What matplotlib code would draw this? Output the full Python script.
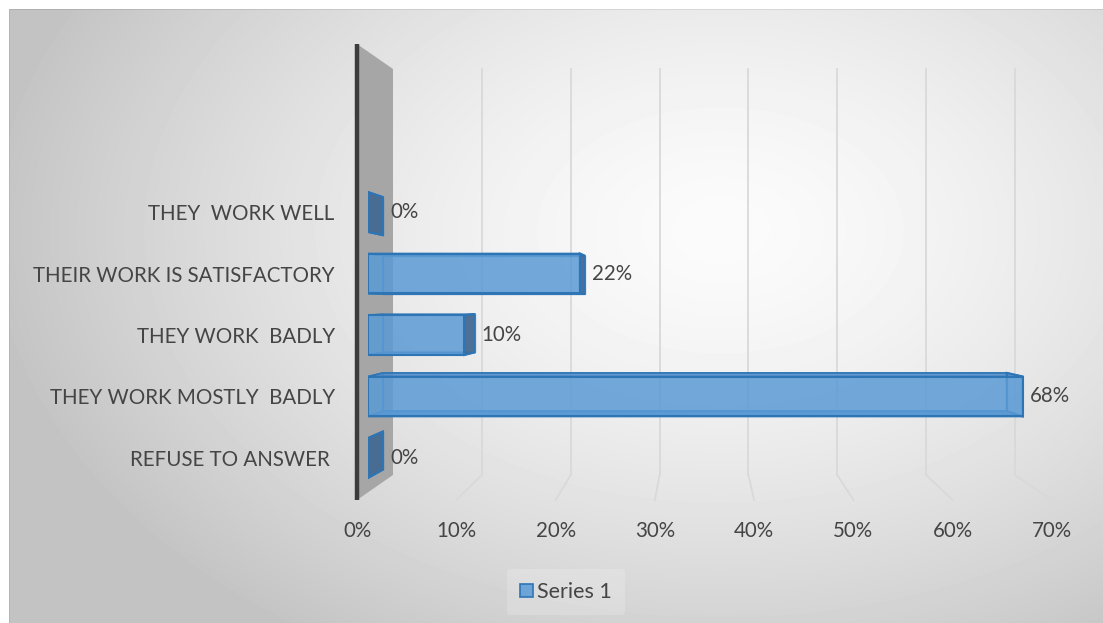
import numpy as np
import matplotlib
matplotlib.use("Agg")
import matplotlib.pyplot as plt
from matplotlib.patches import Polygon, Patch

# ---------------- data ----------------
categories = ["REFUSE TO ANSWER ", "THEY WORK MOSTLY  BADLY", "THEY WORK  BADLY",
              "THEIR WORK IS SATISFACTORY", "THEY  WORK WELL"]
values = [0, 68, 10, 22, 0]
value_labels = ["0%", "68%", "10%", "22%", "0%"]
tick_values = [0, 10, 20, 30, 40, 50, 60, 70]
tick_labels = ["0%", "10%", "20%", "30%", "40%", "50%", "60%", "70%"]
series_name = "Series 1"

# ---------------- style ----------------
W, H = 1103, 623
FONT = ["Lato", "DejaVu Sans"]
TXT = "#454545"
FS = 14.8
BAR_FILL = (0.357, 0.608, 0.835, 0.85)
BAR_TOP = (0.31, 0.55, 0.79, 0.85)
BAR_EDGE = "#2E75B6"
BAR_DARK = (0.27, 0.41, 0.57, 0.95)
WALL = "#A6A6A6"
WALL_LINE = "#3C3C3C"
GRID = "#D9D9D9"

plt.rcParams["font.family"] = FONT

fig = plt.figure(figsize=(W / 100, H / 100), dpi=100)

def fx(px):
    return px / W

def fy(py):
    return 1 - py / H

top_px, bot_px = 40, 500
ylim = (-0.683, 6.797)
floor_front, floor_back = -0.683, -0.276
top_front, top_back = 6.732, 6.325

# background gradient
ax_bg = fig.add_axes([0, 0, 1, 1], zorder=0)
yy, xx = np.mgrid[0:H, 0:W]
r = np.sqrt(((xx - 720) / 700.0) ** 2 + ((yy - 230) / 470.0) ** 2)
c = np.clip(251 - 52 * r ** 1.5, 196, 255)
img = np.full((H, W), 255.0)
img[9:, 9:] = c[9:, 9:]
img[9, 9:] = c[9, 9:] - 20
img[9:, 9] = c[9:, 9] - 15
ax_bg.imshow(img, cmap="gray", vmin=0, vmax=255, extent=(0, W, H, 0),
             aspect="auto", interpolation="bilinear")
ax_bg.set_xlim(0, W)
ax_bg.set_ylim(H, 0)
ax_bg.axis("off")

def make_ax(left_px, right_px, z):
    a = fig.add_axes([fx(left_px), fy(bot_px), (right_px - left_px) / W,
                      (bot_px - top_px) / H], zorder=z)
    a.set_xlim(0, 70)
    a.set_ylim(*ylim)
    a.patch.set_visible(False)
    for s in a.spines.values():
        s.set_visible(False)
    return a

ax_back = make_ax(393, 1015, 1)   # back wall plane
ax_front = make_ax(357, 1052, 2)  # front floor edge
ax = make_ax(368, 1042, 3)        # bars front plane

# ---------- back wall, gridlines, floor lines ----------
def front_to_back(v, y=0.0):
    d = ax_front.transData.transform((v, y))
    return ax_back.transData.inverted().transform(d)[0]

xf0 = front_to_back(0)
wall = Polygon([(xf0, floor_front), (0, floor_back), (0, top_back), (xf0, top_front)],
               closed=True, facecolor=WALL, edgecolor="none", clip_on=False, zorder=2)
ax_back.add_patch(wall)
ax_back.plot([xf0, xf0], [floor_front, top_front], color=WALL_LINE, lw=3.2,
             solid_capstyle="butt", clip_on=False, zorder=3)

for v in tick_values[1:]:
    ax_back.plot([v, v], [floor_back, top_back], color=GRID, lw=1.3, clip_on=False, zorder=1)
    ax_back.plot([v, front_to_back(v)], [floor_back, floor_front], color=GRID, lw=1.3,
                 clip_on=False, zorder=1)
ax_back.set_xticks([])
ax_back.set_yticks([])

# ---------- tick labels (front floor) ----------
ax_front.set_xticks(tick_values, tick_labels)
ax_front.set_yticks([])
ax_front.tick_params(axis="x", length=0, pad=15, labelsize=FS, labelcolor=TXT)

# ---------- 3D bars ----------
vp = (32.9, 2.57)
k = 0.9527

def persp(p):
    return (vp[0] + (p[0] - vp[0]) * k, vp[1] + (p[1] - vp[1]) * k)

hb = 0.65
ypos = np.arange(len(categories))
for i, (yc, v) in enumerate(zip(ypos, values)):
    y0, y1 = yc - hb / 2, yc + hb / 2
    F = [(0, y0), (v, y0), (v, y1), (0, y1)]
    B = [persp(p) for p in F]
    zb = 2 + i * 0.01
    # back face (outline only)
    ax.add_patch(Polygon(B, closed=True, facecolor="none", edgecolor=BAR_EDGE,
                         lw=1.0, alpha=0.6, zorder=zb))
    # left face
    ax.add_patch(Polygon([F[0], F[3], B[3], B[0]], closed=True, facecolor=(0.36, 0.6, 0.83, 0.15),
                         edgecolor=BAR_EDGE, lw=1.0, zorder=zb + 0.001))
    # top / bottom faces
    ax.add_patch(Polygon([F[3], F[2], B[2], B[3]], closed=True, facecolor=BAR_TOP,
                         edgecolor=BAR_EDGE, lw=1.2, zorder=zb + 0.002))
    ax.add_patch(Polygon([F[0], F[1], B[1], B[0]], closed=True, facecolor=BAR_TOP,
                         edgecolor=BAR_EDGE, lw=1.2, zorder=zb + 0.002))
    # right end face
    end_visible = B[1][0] > F[1][0]
    ax.add_patch(Polygon([F[1], F[2], B[2], B[1]], closed=True,
                         facecolor=BAR_DARK if end_visible else (0.36, 0.6, 0.83, 0.2),
                         edgecolor=BAR_EDGE, lw=1.5, zorder=zb + 0.003))
    # data label
    xend = max(F[1][0], B[1][0])
    ax.annotate(value_labels[i], xy=(xend, yc), xytext=(5, 0), textcoords="offset points",
                va="center", ha="left", fontsize=FS, color=TXT, zorder=10)

ax.barh(ypos, values, height=hb, left=0, color=BAR_FILL, edgecolor=BAR_EDGE,
        linewidth=1.5, zorder=5)

ax.set_xticks([])
ax.set_yticks(ypos, categories)
ax.tick_params(axis="y", length=0, pad=24, labelsize=FS, labelcolor=TXT)

# ---------- legend ----------
handle = Patch(facecolor=BAR_FILL, edgecolor=BAR_EDGE, linewidth=1.2)
leg = fig.legend([handle], [series_name], loc="center",
                 bbox_to_anchor=(fx(566), fy(592)), frameon=True, fontsize=15.5,
                 handlelength=0.6, handleheight=0.6, handletextpad=0.2,
                 borderpad=0.6, labelcolor=TXT, facecolor="white", edgecolor="none",
                 framealpha=0.18)

fig.savefig("out.png", dpi=100)
